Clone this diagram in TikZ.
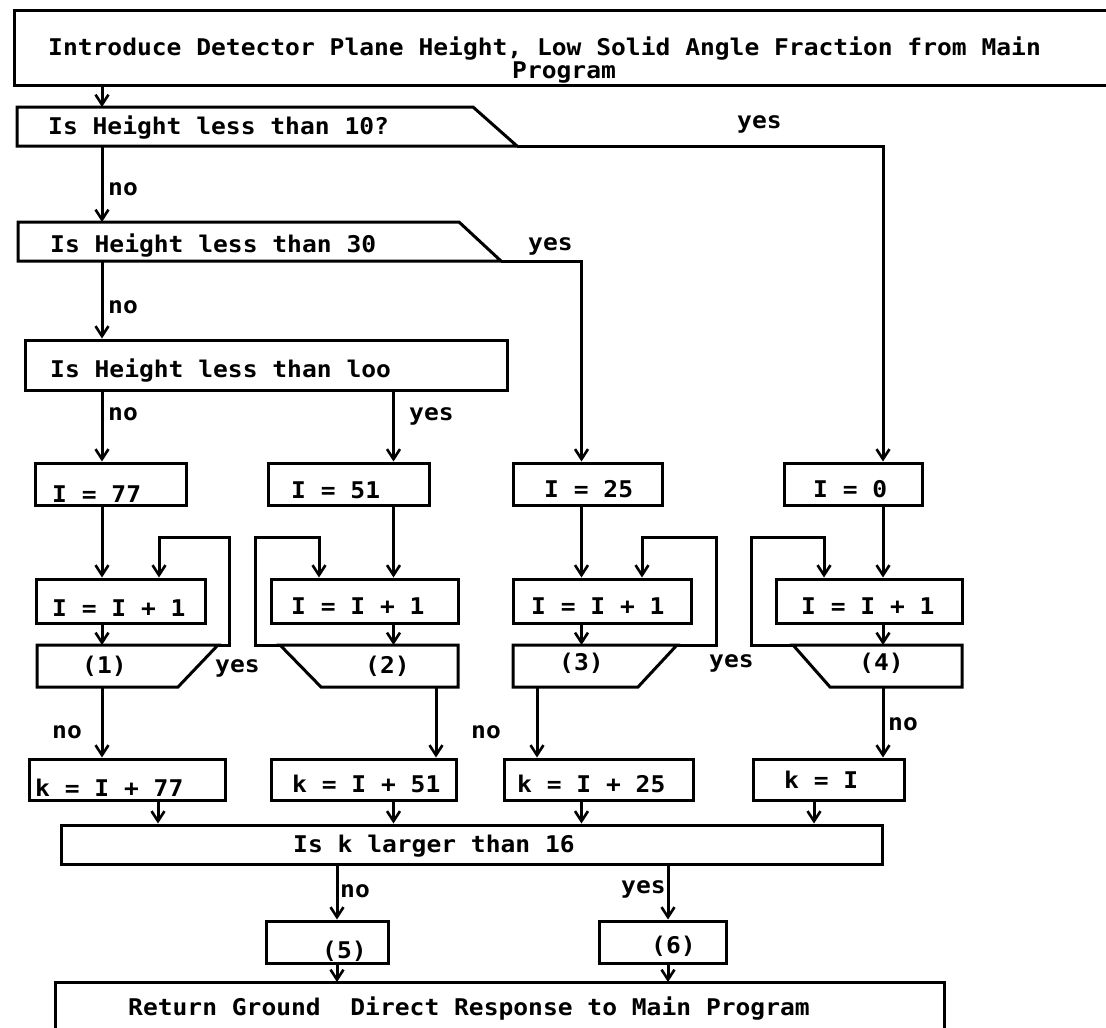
\documentclass[tikz,border=0pt]{standalone}
\usepackage{fontspec}
\setmonofont[FakeStretch=1.07]{DejaVu Sans Mono}
\usetikzlibrary{arrows.meta}
\tikzset{
  flow/.style={line width=3pt, line join=miter},
  arr/.style={flow, -{Straight Barb[length=10pt,width=13pt,line width=2.6pt]}},
  box/.style={draw, flow, inner sep=0pt},
  txt/.style={font=\ttfamily\bfseries\fontsize{23pt}{28pt}\selectfont, inner sep=0pt, anchor=base west},
}

\begin{document}
\begin{tikzpicture}[x=1pt,y=-1pt]
    \useasboundingbox (0,0) rectangle (1106,1028);
    % columns
    \coordinate (colA) at (102,0);
    \coordinate (colB) at (393.5,0);
    \coordinate (colC) at (581.5,0);
    \coordinate (colD) at (883,0);
    \coordinate (colE) at (158,0);
    \coordinate (colF) at (814,0);
    \coordinate (colG) at (337,0);
    \coordinate (colH) at (668,0);
    % introduction
    \draw[flow] (1110,10) -- (14,10) -- (14,85) coordinate (intro) -- (1110,85);
    \node[txt] (t-intro1) at (48,55) {Introduce Detector Plane Height, Low Solid Angle Fraction from Main};
    \node[txt] (t-intro2) at (512,78) {Program};
    % height less than 10
    \draw[flow] (17,107) coordinate (h10) -- (473,107) -- (517,146) coordinate (h10-yes) -- (17,146) -- cycle;
    \node[txt] (t-h10) at (48,134) {Is Height less than 10?};
    \node[txt] (yes-h10) at (737,128) {yes};
    \node[txt] (no-h10) at (108,195) {no};
    % height less than 30
    \draw[flow] (18,222) coordinate (h30) -- (459,222) -- (501,261) coordinate (h30-yes) -- (18,261) -- cycle;
    \node[txt] (t-h30) at (50,252) {Is Height less than 30};
    \node[txt] (yes-h30) at (528,250) {yes};
    \node[txt] (no-h30) at (108,313) {no};
    % height less than 100
    \node[box, minimum width=482pt, minimum height=50pt] (h100) at (266,365) {};
    \node[txt] (t-h100) at (50,377) {Is Height less than loo};
    \node[txt] (no-h100) at (108,420) {no};
    \node[txt] (yes-h100) at (409,420) {yes};
    % start values
    \node[box, minimum width=151pt, minimum height=42pt] (b77) at (110.5,484) {};
    \node[box, minimum width=161pt, minimum height=42pt] (b51) at (348.5,484) {};
    \node[box, minimum width=149pt, minimum height=42pt] (b25) at (587.5,484) {};
    \node[box, minimum width=138pt, minimum height=42pt] (b0) at (853,484) {};
    \node[txt] (t-b77) at (52,502) {I = 77};
    \node[txt] (t-b51) at (291,498) {I = 51};
    \node[txt] (t-b25) at (544,497) {I = 25};
    \node[txt] (t-b0) at (813,497) {I = 0};
    % increments
    \node[box, minimum width=169pt, minimum height=44pt] (inc1) at (120.5,601) {};
    \node[box, minimum width=187pt, minimum height=44pt] (inc2) at (364.5,601) {};
    \node[box, minimum width=178pt, minimum height=44pt] (inc3) at (602,601) {};
    \node[box, minimum width=186pt, minimum height=44pt] (inc4) at (869,601) {};
    \node[txt] (t-inc1) at (52,616) {I = I + 1};
    \node[txt] (t-inc2) at (291,614) {I = I + 1};
    \node[txt] (t-inc3) at (531,614) {I = I + 1};
    \node[txt] (t-inc4) at (801,614) {I = I + 1};
    % tests (1) to (4)
    \draw[flow] (37,645) -- (218,645) coordinate (q1-yes) -- (178,687) -- (37,687) -- cycle;
    \draw[flow] (458,645) -- (280,645) coordinate (q2-yes) -- (321,687) -- (458,687) -- cycle;
    \draw[flow] (513,645) -- (677,645) coordinate (q3-yes) -- (638,687) -- (513,687) -- cycle;
    \draw[flow] (962,645) -- (793,645) coordinate (q4-yes) -- (830,687) -- (962,687) -- cycle;
    \coordinate (q-top) at (0,645);
    \coordinate (q-bot) at (0,687);
    \coordinate (q2-out) at (436,687);
    \coordinate (q3-out) at (537,687);
    \coordinate (loop1) at (159,537);
    \coordinate (loop2) at (319,537);
    \coordinate (loop3) at (642,537);
    \coordinate (loop4) at (824,537);
    \node[txt] (t-q1) at (82,673) {(1)};
    \node[txt] (t-q2) at (365,673) {(2)};
    \node[txt] (t-q3) at (559,670) {(3)};
    \node[txt] (t-q4) at (859,670) {(4)};
    \node[txt] (yes-q1) at (215,672) {yes};
    \node[txt] (yes-q3) at (709,667) {yes};
    \node[txt] (no-q1) at (52,738) {no};
    \node[txt] (no-q3) at (471,738) {no};
    \node[txt] (no-q4) at (888,730) {no};
    % k values
    \node[box, minimum width=196pt, minimum height=41pt] (k77) at (127,779.5) {};
    \node[box, minimum width=185pt, minimum height=41pt] (k51) at (363.5,779.5) {};
    \node[box, minimum width=189pt, minimum height=41pt] (k25) at (598.5,779.5) {};
    \node[box, minimum width=151pt, minimum height=41pt] (kI) at (828.5,779.5) {};
    \node[txt] (t-k77) at (35,796) {k = I + 77};
    \node[txt] (t-k51) at (292,792) {k = I + 51};
    \node[txt] (t-k25) at (517,792) {k = I + 25};
    \node[txt] (t-kI) at (784,788) {k = I};
    % k larger than 16
    \node[box, minimum width=821pt, minimum height=39pt] (k16) at (471.5,844.5) {};
    \node[txt] (t-k16) at (293,852) {Is k larger than 16};
    \node[txt] (no-k16) at (340,897) {no};
    \node[txt] (yes-k16) at (621,893) {yes};
    \node[box, minimum width=122pt, minimum height=42pt] (p5) at (327,942) {};
    \node[box, minimum width=127pt, minimum height=42pt] (p6) at (662.5,942) {};
    \node[txt] (t-p5) at (322,958) {(5)};
    \node[txt] (t-p6) at (651,953) {(6)};
    % return
    \draw[flow] (55,1032) -- (55,982) coordinate (ret) -- (944,982) -- (944,1032);
    \node[txt] (t-ret) at (128,1015) {Return Ground~~Direct Response to Main Program};
    % main column
    \draw[arr] (intro -| colA) -- (h10 -| colA);
    \draw[arr] (h10-yes -| colA) -- (h30 -| colA);
    \draw[arr] (h30-yes -| colA) -- (h100.north -| colA);
    \draw[arr] (h100.south -| colA) -- (b77.north -| colA);
    \draw[arr] (h100.south -| colB) -- (b51.north -| colB);
    \draw[arr] (h30-yes) -- (h30-yes -| colC) -- (b25.north -| colC);
    \draw[arr] (h10-yes) -- (h10-yes -| colD) -- (b0.north -| colD);
    % into the loops
    \draw[arr] (b77.south -| colA) -- (inc1.north -| colA);
    \draw[arr] (b51.south -| colB) -- (inc2.north -| colB);
    \draw[arr] (b25.south -| colC) -- (inc3.north -| colC);
    \draw[arr] (b0.south -| colD) -- (inc4.north -| colD);
    \draw[arr] (inc1.south -| colA) -- (q-top -| colA);
    \draw[arr] (inc2.south -| colB) -- (q-top -| colB);
    \draw[arr] (inc3.south -| colC) -- (q-top -| colC);
    \draw[arr] (inc4.south -| colD) -- (q-top -| colD);
    % loops back
    \draw[arr] (q1-yes) -- ++(11,0) |- (loop1) -- (inc1.north -| loop1);
    \draw[arr] (q2-yes) -- ++(-25,0) |- (loop2) -- (inc2.north -| loop2);
    \draw[arr] (q3-yes) -- ++(39,0) |- (loop3) -- (inc3.north -| loop3);
    \draw[arr] (q4-yes) -- ++(-42,0) |- (loop4) -- (inc4.north -| loop4);
    % out of the loops
    \draw[arr] (q-bot -| colA) -- (k77.north -| colA);
    \draw[arr] (q2-out) -- (k51.north -| q2-out);
    \draw[arr] (q3-out) -- (k25.north -| q3-out);
    \draw[arr] (q-bot -| colD) -- (kI.north -| colD);
    \draw[arr] (k77.south -| colE) -- (k16.north -| colE);
    \draw[arr] (k51.south -| colB) -- (k16.north -| colB);
    \draw[arr] (k25.south -| colC) -- (k16.north -| colC);
    \draw[arr] (kI.south -| colF) -- (k16.north -| colF);
    % last test
    \draw[arr] (k16.south -| colG) -- (p5.north -| colG);
    \draw[arr] (k16.south -| colH) -- (p6.north -| colH);
    \draw[arr] (p5.south -| colG) -- (ret -| colG);
    \draw[arr] (p6.south -| colH) -- (ret -| colH);
\end{tikzpicture}
\end{document}
